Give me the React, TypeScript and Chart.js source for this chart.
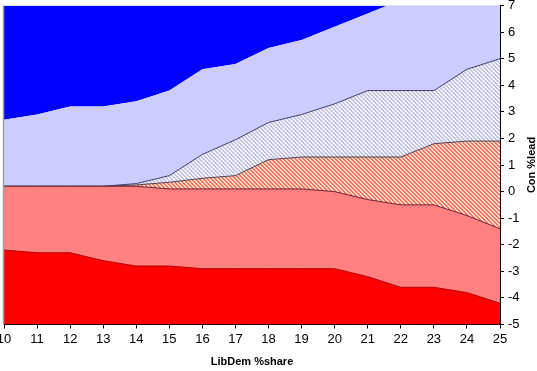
import React, { useEffect, useRef } from "react";
import { Chart, registerables } from "chart.js";

Chart.register(...registerables);

const libDemShare = [10, 11, 12, 13, 14, 15, 16, 17, 18, 19, 20, 21, 22, 23, 24, 25];
const redTop = [-2.2, -2.3, -2.3, -2.6, -2.8, -2.8, -2.9, -2.9, -2.9, -2.9, -2.9, -3.2, -3.6, -3.6, -3.8, -4.2];
const salmonTop = [0.2, 0.2, 0.2, 0.2, 0.2, 0.1, 0.1, 0.1, 0.1, 0.1, 0.0, -0.3, -0.5, -0.5, -0.9, -1.4];
const hatchRedTop = [0.2, 0.2, 0.2, 0.2, 0.25, 0.35, 0.5, 0.6, 1.2, 1.3, 1.3, 1.3, 1.3, 1.8, 1.9, 1.9];
const hatchLavTop = [0.2, 0.2, 0.2, 0.2, 0.3, 0.6, 1.4, 1.95, 2.6, 2.9, 3.3, 3.8, 3.8, 3.8, 4.6, 5.0];
const blueBottom = [2.7, 2.9, 3.2, 3.2, 3.4, 3.8, 4.6, 4.8, 5.4, 5.7, 6.2, 6.7, 7.2, 7.6, 8.0, 8.4];

const xTitle = "LibDem %share";
const yTitle = "Con %lead";
const FONT = '"Liberation Sans Narrow", "Liberation Sans", Arial, sans-serif';

function pts(vals: number[]) {
  return libDemShare.map((x, i) => ({ x, y: vals[i] }));
}

function hatch(ctx: CanvasRenderingContext2D, bg: string, fg: string) {
  const c = document.createElement("canvas");
  c.width = 4;
  c.height = 4;
  const g = c.getContext("2d")!;
  g.fillStyle = bg;
  g.fillRect(0, 0, 4, 4);
  g.fillStyle = fg;
  for (let i = 0; i < 4; i++) {
    g.fillRect(i, i, 1, 1);
    g.fillRect((i + 1) % 4, i, 1, 1);
  }
  return ctx.createPattern(c, "repeat")!;
}

export default function App() {
  const ref = useRef<HTMLCanvasElement>(null);
  useEffect(() => {
    const canvas = ref.current!;
    const ctx = canvas.getContext("2d")!;
    const redHatch = hatch(ctx, "#FDDACB", "#F27862");
    const lavHatch = hatch(ctx, "#F4F4FC", "#C2C2DE");

    const decor = {
      id: "decor",
      afterDraw(chart: any) {
        const { ctx: c, chartArea } = chart;
        c.save();
        c.strokeStyle = "#A0A0A0";
        c.lineWidth = 1.5;
        c.beginPath();
        c.moveTo(chartArea.left - 0.5, chartArea.top);
        c.lineTo(chartArea.left - 0.5, chartArea.bottom);
        c.stroke();
        c.translate(532, (chartArea.top + chartArea.bottom) / 2);
        c.rotate(-Math.PI / 2);
        c.font = `bold 11px ${FONT}`;
        c.fillStyle = "#000";
        c.textAlign = "center";
        c.textBaseline = "middle";
        c.fillText(yTitle, 0, 0);
        c.restore();
      },
    };

    const base = { pointRadius: 0, borderWidth: 1, tension: 0 };
    const chart = new Chart(canvas, {
      type: "line",
      data: {
        datasets: [
          { ...base, data: pts(redTop), fill: "start", backgroundColor: "#FF0000", borderColor: "#B00000" },
          { ...base, data: pts(salmonTop), fill: "-1", backgroundColor: "#FF8080", borderColor: "#6A2030" },
          { ...base, data: pts(hatchRedTop), fill: "-1", backgroundColor: redHatch as any, borderColor: "#504050" },
          { ...base, data: pts(hatchLavTop), fill: "-1", backgroundColor: lavHatch as any, borderColor: "#404070" },
          { ...base, data: pts(blueBottom), fill: "-1", backgroundColor: "#CCCCFF", borderColor: "rgba(0,0,0,0)", borderWidth: 0 },
          { ...base, data: pts(blueBottom), fill: "end", backgroundColor: "#0000FF", borderColor: "#0000FF", borderWidth: 0 },
        ],
      },
      options: {
        animation: false,
        responsive: false,
        layout: { padding: { left: 4, top: 5.5, right: 0, bottom: 0 } },
        plugins: { legend: { display: false }, tooltip: { enabled: false } },
        scales: {
          x: {
            type: "linear",
            min: 10,
            max: 25,
            grid: { drawOnChartArea: false, drawTicks: true, tickLength: 4, tickColor: "#000" },
            border: { color: "#000", width: 1 },
            ticks: { stepSize: 1, autoSkip: false, color: "#000", font: { family: FONT, size: 13 }, padding: 3, maxRotation: 0 },
            title: { display: true, text: xTitle, color: "#000", font: { family: FONT, size: 11, weight: "bold" }, padding: { top: 0, bottom: 2 } },
            afterFit: (s: any) => {
              s.height = 46.5;
              s.paddingLeft = 0;
              s.paddingRight = 0;
            },
          },
          y: {
            position: "right",
            min: -5,
            max: 7,
            grid: { drawOnChartArea: false, drawTicks: true, tickLength: 4, tickColor: "#000" },
            border: { color: "#000", width: 1 },
            ticks: { stepSize: 1, color: "#000", font: { family: FONT, size: 13 }, padding: 4 },
            afterFit: (s: any) => {
              s.width = 37;
              s.paddingTop = 0;
              s.paddingBottom = 0;
            },
          },
        },
      } as any,
      plugins: [decor],
    });
    return () => chart.destroy();
  }, []);

  return (
    <div style={{ position: "absolute", left: 0, top: 0, width: 537, height: 371, background: "#fff" }}>
      <canvas ref={ref} width={537} height={371} style={{ display: "block" }} />
    </div>
  );
}
